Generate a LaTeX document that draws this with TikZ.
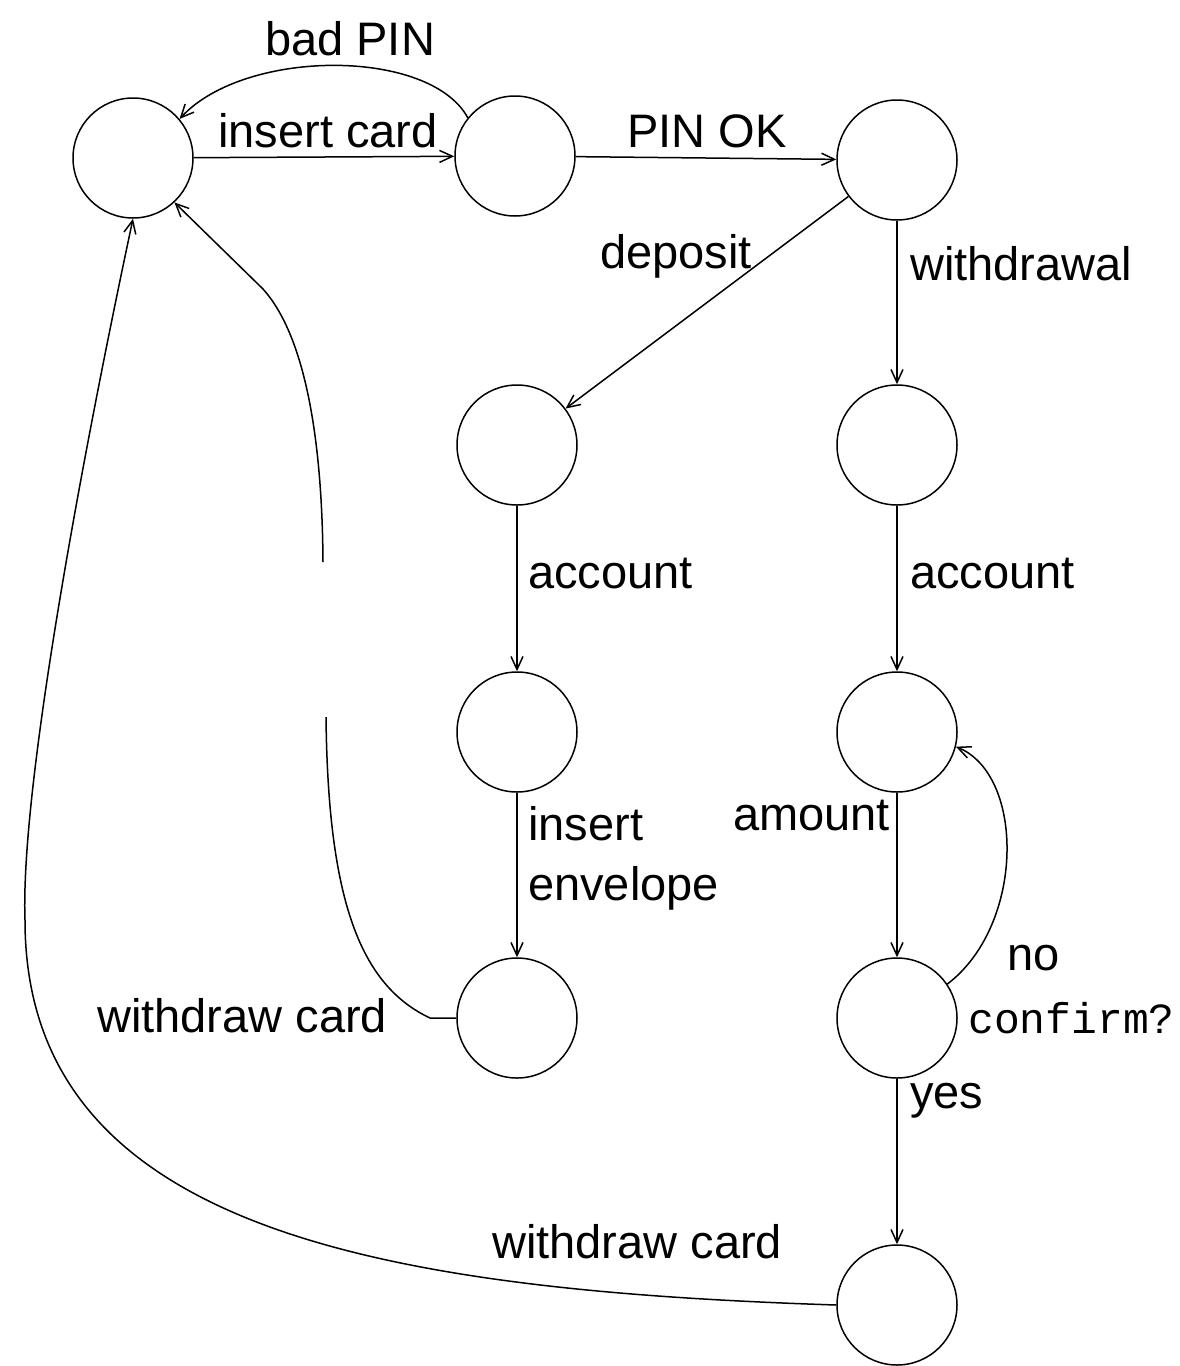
\documentclass[tikz,border=0pt]{standalone}
\usepackage{fontspec}
\setmainfont{Liberation Sans}
\newfontfamily\monof{Liberation Mono}
\usetikzlibrary{arrows.meta}
\begin{document}
\begin{tikzpicture}[x=1pt,y=-1pt,
  state/.style={circle,draw,minimum size=120pt,inner sep=0pt,line width=1.5pt},
  lbl/.style={anchor=base west,inner sep=0pt,font=\fontsize{47}{56}\selectfont},
  edge/.style={draw,line width=1.5pt,-{Straight Barb[length=13pt,width=12pt,line width=1.5pt]}},
  plain/.style={draw,line width=1.5pt}]
\fill[white] (0,0) rectangle (1180,1366);
\useasboundingbox (0,0) rectangle (1180,1366);
% states
\node[state] (A) at (133,158) {};
\node[state] (B) at (515,156) {};
\node[state] (C) at (897,160) {};
\node[state] (D) at (517,445) {};
\node[state] (E) at (897,445) {};
\node[state] (F) at (517,732) {};
\node[state] (G) at (897,732) {};
\node[state] (H) at (517,1018) {};
\node[state] (I) at (897,1018) {};
\node[state] (J) at (897,1305) {};
% labels
\node[lbl] (lbad) at (265,55) {bad PIN};
\node[lbl] (lins) at (218,147) {insert card};
\node[lbl] (lok) at (627,147) {PIN OK};
\node[lbl] (ldep) at (600,268) {deposit};
\node[lbl] (lwdl) at (910,280) {withdrawal};
\node[lbl] (lacc1) at (528,588) {account};
\node[lbl] (lacc2) at (910,588) {account};
\node[lbl] (linsert) at (528,840) {insert};
\node[lbl] (lenv) at (528,900) {envelope};
\node[lbl] (lamt) at (733,830) {amount};
\node[lbl] (lno) at (1007,970) {no};
\node[anchor=base west,inner sep=0pt,font=\monof\fontsize{43}{50}\selectfont] (lconf) at (968,1033) {confirm?};
\node[lbl] (lyes) at (910,1108) {yes};
\node[lbl] (lwc1) at (97,1032) {withdraw card};
\node[lbl] (lwc2) at (492,1258) {withdraw card};
% edges
\path[edge] (A) -- (B);
\path[edge] (B) -- (C);
\path[edge] (B.141) .. controls (430,48) and (245,48) .. (A.40);
\path[edge] (C) -- (D);
\path[edge] (C) -- (E);
\path[edge] (D) -- (F);
\path[edge] (E) -- (G);
\path[edge] (F) -- (H);
\path[edge] (G) -- (I);
\path[edge] (I) -- (J);
\path[edge] (I.34) .. controls (1025,925) and (1025,775) .. (G.-14);
\path[edge] (H.west) -- (430,1018) .. controls (360,985) and (328,900) .. (326,717)
   (323,562) .. controls (322,420) and (300,330) .. (263,289) -- (A.-47);
\path[edge] (J.west) .. controls (380,1290) and (25,1230) .. (25,920)
   .. controls (20,780) and (90,420) .. (A.south);
\end{tikzpicture}
\end{document}
